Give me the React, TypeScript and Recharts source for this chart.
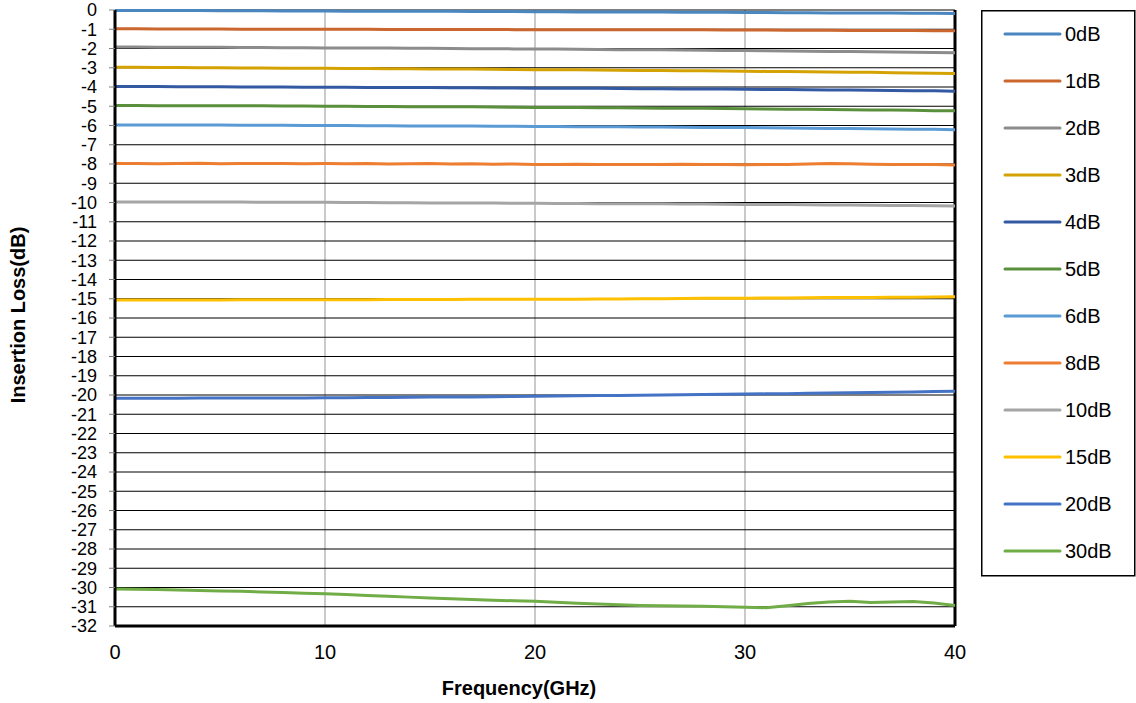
import React from 'react';
import {
  LineChart,
  Line,
  XAxis,
  YAxis,
  CartesianGrid,
  ReferenceLine
} from 'recharts';

// frequency points (GHz)
const FREQ = [
  0, 1, 2, 3, 4, 5, 6, 7, 8, 9, 10, 11, 12, 13, 14, 15, 16, 17, 18, 19, 20,
  21, 22, 23, 24, 25, 26, 27, 28, 29, 30, 31, 32, 33, 34, 35, 36, 37, 38, 39, 40
];

// insertion loss per attenuator (dB)
const IL_0DB = [
  -0.02, -0.02, -0.03, -0.03, -0.03, -0.04, -0.04, -0.04, -0.05, -0.05, -0.05,
  -0.06, -0.06, -0.06, -0.07, -0.07, -0.07, -0.08, -0.08, -0.08, -0.09,
  -0.09, -0.1, -0.1, -0.1, -0.11, -0.11, -0.12, -0.12, -0.12, -0.13,
  -0.13, -0.14, -0.14, -0.15, -0.15, -0.16, -0.16, -0.17, -0.17, -0.18
];
const IL_1DB = [
  -0.98, -0.98, -0.99, -0.99, -0.99, -0.99, -1.0, -1.0, -1.0, -1.0, -1.0,
  -1.0, -1.0, -1.01, -1.01, -1.01, -1.01, -1.01, -1.01, -1.02, -1.02,
  -1.02, -1.02, -1.02, -1.03, -1.03, -1.03, -1.03, -1.03, -1.04, -1.04,
  -1.04, -1.05, -1.05, -1.05, -1.06, -1.06, -1.07, -1.07, -1.08, -1.08
];
const IL_2DB = [
  -1.92, -1.92, -1.93, -1.93, -1.94, -1.94, -1.95, -1.95, -1.96, -1.96, -1.97,
  -1.97, -1.98, -1.98, -1.99, -1.99, -2.0, -2.01, -2.01, -2.02, -2.03,
  -2.03, -2.04, -2.05, -2.06, -2.06, -2.07, -2.08, -2.09, -2.1, -2.11,
  -2.12, -2.13, -2.14, -2.15, -2.16, -2.17, -2.18, -2.19, -2.21, -2.22
];
const IL_3DB = [
  -2.98, -2.98, -2.99, -2.99, -3.0, -3.0, -3.01, -3.01, -3.02, -3.02, -3.03,
  -3.04, -3.04, -3.05, -3.05, -3.06, -3.07, -3.07, -3.08, -3.09, -3.1,
  -3.1, -3.11, -3.12, -3.13, -3.14, -3.14, -3.15, -3.16, -3.17, -3.18,
  -3.19, -3.2, -3.21, -3.22, -3.23, -3.24, -3.26, -3.27, -3.28, -3.3
];
const IL_4DB = [
  -3.98, -3.98, -3.98, -3.99, -3.99, -3.99, -4.0, -4.0, -4.0, -4.01, -4.01,
  -4.01, -4.02, -4.02, -4.03, -4.03, -4.04, -4.04, -4.05, -4.05, -4.06,
  -4.06, -4.07, -4.07, -4.08, -4.09, -4.09, -4.1, -4.1, -4.11, -4.12,
  -4.13, -4.13, -4.14, -4.15, -4.16, -4.17, -4.18, -4.19, -4.2, -4.22
];
const IL_5DB = [
  -4.96, -4.96, -4.97, -4.97, -4.97, -4.98, -4.98, -4.98, -4.99, -4.99, -5.0,
  -5.0, -5.01, -5.01, -5.02, -5.02, -5.03, -5.03, -5.04, -5.05, -5.06,
  -5.06, -5.07, -5.08, -5.08, -5.09, -5.1, -5.1, -5.11, -5.12, -5.13,
  -5.14, -5.15, -5.16, -5.17, -5.18, -5.19, -5.2, -5.21, -5.23, -5.24
];
const IL_6DB = [
  -5.97, -5.97, -5.97, -5.98, -5.98, -5.98, -5.99, -5.99, -5.99, -6.0, -6.0,
  -6.0, -6.01, -6.01, -6.02, -6.02, -6.03, -6.03, -6.04, -6.04, -6.05,
  -6.05, -6.06, -6.06, -6.07, -6.08, -6.08, -6.09, -6.1, -6.1, -6.11,
  -6.12, -6.13, -6.14, -6.15, -6.16, -6.17, -6.18, -6.19, -6.2, -6.22
];
const IL_8DB = [
  -7.98, -7.97, -7.99, -7.98, -7.96, -7.99, -7.98, -7.97, -7.98, -7.99, -7.98,
  -7.99, -7.98, -8.0, -7.99, -7.98, -8.0, -7.99, -8.01, -8.0, -8.02,
  -8.02, -8.01, -8.03, -8.02, -8.03, -8.02, -8.01, -8.03, -8.03, -8.04,
  -8.03, -8.02, -8.0, -7.98, -7.99, -8.01, -8.02, -8.03, -8.02, -8.05
];
const IL_10DB = [
  -9.97, -9.97, -9.97, -9.98, -9.98, -9.98, -9.98, -9.99, -9.99, -9.99, -9.99,
  -10.0, -10.0, -10.01, -10.01, -10.02, -10.02, -10.03, -10.03, -10.04, -10.04,
  -10.05, -10.05, -10.06, -10.06, -10.07, -10.07, -10.08, -10.08, -10.09, -10.1,
  -10.1, -10.11, -10.12, -10.13, -10.13, -10.14, -10.15, -10.16, -10.17, -10.18
];
const IL_15DB = [
  -15.06, -15.06, -15.06, -15.06, -15.06, -15.06, -15.05, -15.05, -15.05, -15.05, -15.05,
  -15.05, -15.05, -15.04, -15.04, -15.04, -15.04, -15.03, -15.03, -15.03, -15.02,
  -15.02, -15.02, -15.01, -15.01, -15.0, -15.0, -14.99, -14.98, -14.98, -14.97,
  -14.96, -14.96, -14.95, -14.94, -14.94, -14.93, -14.92, -14.92, -14.91, -14.9
];
const IL_20DB = [
  -20.17, -20.17, -20.17, -20.17, -20.16, -20.16, -20.16, -20.15, -20.15, -20.15, -20.14,
  -20.14, -20.13, -20.13, -20.12, -20.11, -20.1, -20.1, -20.09, -20.08, -20.06,
  -20.05, -20.04, -20.03, -20.02, -20.01, -20.0, -19.99, -19.98, -19.96, -19.95,
  -19.94, -19.93, -19.91, -19.9, -19.88, -19.87, -19.86, -19.84, -19.82, -19.8
];
const IL_30DB = [
  -30.08, -30.09, -30.11, -30.13, -30.15, -30.18, -30.2, -30.23, -30.26, -30.3, -30.33,
  -30.37, -30.41, -30.45, -30.5, -30.54, -30.58, -30.62, -30.66, -30.69, -30.72,
  -30.77, -30.82, -30.86, -30.9, -30.93, -30.95, -30.96, -30.97, -31.0, -31.02,
  -31.05, -30.95, -30.83, -30.75, -30.72, -30.78, -30.75, -30.73, -30.8, -30.94
];

const X_TICKS = [0, 10, 20, 30, 40];
const Y_TICKS = [
  0, -1, -2, -3, -4, -5, -6, -7, -8, -9, -10, -11, -12, -13, -14, -15, -16,
  -17, -18, -19, -20, -21, -22, -23, -24, -25, -26, -27, -28, -29, -30, -31, -32
];

const SERIES = [
  { key: 's0', name: '0dB', color: '#4A86BF', values: IL_0DB },
  { key: 's1', name: '1dB', color: '#CB662F', values: IL_1DB },
  { key: 's2', name: '2dB', color: '#8C8C8C', values: IL_2DB },
  { key: 's3', name: '3dB', color: '#D4A202', values: IL_3DB },
  { key: 's4', name: '4dB', color: '#3359A3', values: IL_4DB },
  { key: 's5', name: '5dB', color: '#5A8F3B', values: IL_5DB },
  { key: 's6', name: '6dB', color: '#5B9BD5', values: IL_6DB },
  { key: 's8', name: '8dB', color: '#ED7D31', values: IL_8DB },
  { key: 's10', name: '10dB', color: '#A5A5A5', values: IL_10DB },
  { key: 's15', name: '15dB', color: '#FFC000', values: IL_15DB },
  { key: 's20', name: '20dB', color: '#4472C4', values: IL_20DB },
  { key: 's30', name: '30dB', color: '#70AD47', values: IL_30DB }
];

const data = FREQ.map((f, i) => {
  const row: any = { f };
  SERIES.forEach((s) => {
    row[s.key] = s.values[i];
  });
  return row;
});

const FONT = 'Liberation Sans, Arial, sans-serif';

// legend drawn as an overlay so it does not eat into the plot area
const LegendBox = () => (
  <svg width={155} height={567} style={{ position: 'absolute', left: 981, top: 10 }}>
    <rect x={0.75} y={0.75} width={153} height={565} fill="#fff" stroke="#000" strokeWidth={1.5} />
    {SERIES.map((s, i) => (
      <g key={s.key}>
        <line x1={24} x2={79} y1={24 + i * 47} y2={24 + i * 47} stroke={s.color} strokeWidth={3} strokeLinecap="round" />
        <text x={84} y={24 + i * 47} dy="0.35em" fontSize={20} fontFamily={FONT} fill="#000">
          {s.name}
        </text>
      </g>
    ))}
  </svg>
);

export default function App() {
  return (
    <div style={{ position: 'absolute', left: 0, top: 0, width: 1136, height: 703, background: '#fff', fontFamily: FONT }}>
      <LineChart width={1136} height={703} data={data} margin={{ top: 10, right: 181, bottom: 0, left: 0 }}>
        <CartesianGrid horizontal={false} vertical={true} stroke="#A6A6A6" strokeWidth={1.2} />
        <CartesianGrid horizontal={true} vertical={false} stroke="#000" strokeWidth={1.2} />
        <XAxis
          dataKey="f"
          type="number"
          domain={[0, 40]}
          ticks={X_TICKS}
          interval={0}
          height={77}
          tickLine={false}
          tickSize={6}
          tickMargin={13}
          axisLine={{ stroke: '#000', strokeWidth: 3 }}
          tick={{ fill: '#000', fontSize: 20, fontFamily: FONT }}
        />
        <YAxis
          type="number"
          domain={[-32, 0]}
          ticks={Y_TICKS}
          interval={0}
          width={115}
          tickSize={6}
          tickMargin={12}
          tickLine={{ stroke: '#808080' }}
          axisLine={{ stroke: '#000', strokeWidth: 3 }}
          tick={{ fill: '#000', fontSize: 18, fontFamily: FONT }}
        />
        <ReferenceLine x={40} stroke="#000" strokeWidth={3} />
        {SERIES.map((s) => (
          <Line
            key={s.key}
            type="linear"
            dataKey={s.key}
            name={s.name}
            stroke={s.color}
            strokeWidth={3}
            dot={false}
            isAnimationActive={false}
          />
        ))}
      </LineChart>
      <LegendBox />
      <div
        style={{
          position: 'absolute',
          left: 519,
          top: 688,
          transform: 'translate(-50%, -50%)',
          fontWeight: 'bold',
          fontSize: 20,
          whiteSpace: 'nowrap'
        }}
      >
        Frequency(GHz)
      </div>
      <div
        style={{
          position: 'absolute',
          left: 18,
          top: 315,
          transform: 'translate(-50%, -50%) rotate(-90deg)',
          fontWeight: 'bold',
          fontSize: 20,
          whiteSpace: 'nowrap'
        }}
      >
        Insertion Loss(dB)
      </div>
    </div>
  );
}
